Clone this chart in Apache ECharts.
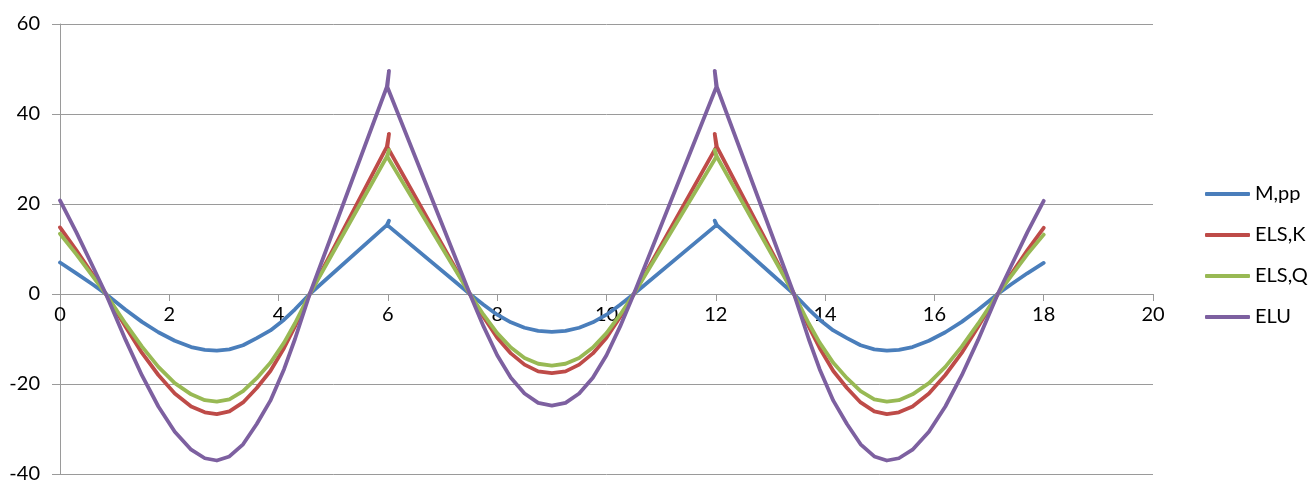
<!DOCTYPE html>
<html>
<head>
<meta charset="utf-8">
<script src="https://cdn.jsdelivr.net/npm/echarts@6/dist/echarts.min.js"></script>
<style>
html,body{margin:0;padding:0;background:#fff;}
#chart{width:1315px;height:482px;}
</style>
</head>
<body>
<div id="chart"></div>
<script>
const seriesNames = ['M,pp', 'ELS,K', 'ELS,Q', 'ELU'];
const xValues = [0, 0.3, 0.6, 0.84, 1.2, 1.5, 1.8, 2.1, 2.4, 2.65, 2.87, 3.1, 3.35, 3.6, 3.85, 4.1, 4.3, 4.57, 5.98, 6.02, 5.99, 7.5, 7.75, 8.0, 8.25, 8.5, 8.75, 9.0,
  9.25, 9.5, 9.75, 10.0, 10.25, 10.5, 12.01, 11.98, 12.02, 13.43, 13.7, 13.9, 14.15, 14.4, 14.65, 14.9, 15.13, 15.35, 15.6, 15.9, 16.2, 16.5, 16.8, 17.16, 17.4, 17.7, 18];
const mpp = [7.0, 4.6, 2.1, 0, -3.5, -6.2, -8.5, -10.4, -11.8, -12.4, -12.6, -12.3, -11.4, -9.8, -8.1, -5.7, -3.4, 0, 15.3, 16.3, 15.3, 0, -2.4, -4.6, -6.3, -7.5, -8.2, -8.4,
  -8.2, -7.5, -6.3, -4.6, -2.4, 0, 15.3, 16.3, 15.3, 0, -3.4, -5.7, -8.1, -9.8, -11.4, -12.3, -12.6, -12.4, -11.8, -10.4, -8.5, -6.2, -3.5, 0, 2.1, 4.6, 6.9];
const elsK = [14.8, 9.7, 4.3, 0, -7.3, -13.1, -18.0, -22.1, -25.0, -26.3, -26.7, -26.1, -24.1, -20.9, -17.1, -12.0, -7.2, 0, 32.7, 35.6, 32.7, 0, -5.1, -9.7, -13.2, -15.7, -17.2, -17.6,
  -17.2, -15.7, -13.2, -9.7, -5.1, 0, 32.7, 35.6, 32.7, 0, -7.2, -12.0, -17.1, -20.9, -24.1, -26.1, -26.7, -26.3, -25.0, -22.1, -18.0, -13.1, -7.3, 0, 4.3, 9.7, 14.7];
const elsQ = [13.4, 8.8, 3.9, 0, -6.6, -11.7, -16.2, -19.8, -22.3, -23.6, -23.9, -23.4, -21.6, -18.7, -15.3, -10.8, -6.5, 0, 30.5, 32.0, 30.5, 0, -4.6, -8.7, -11.9, -14.2, -15.5, -15.9,
  -15.5, -14.2, -11.9, -8.7, -4.6, 0, 30.5, 32.0, 30.5, 0, -6.5, -10.8, -15.3, -18.7, -21.6, -23.4, -23.9, -23.6, -22.3, -19.8, -16.2, -11.7, -6.6, 0, 3.9, 8.8, 13.2];
const elu = [20.8, 13.7, 6.1, 0, -10.2, -18.1, -25.0, -30.6, -34.6, -36.5, -37.0, -36.1, -33.4, -28.9, -23.7, -16.7, -10.0, 0, 46.0, 49.6, 46.0, 0, -7.2, -13.6, -18.6, -22.1, -24.2, -24.8,
  -24.2, -22.1, -18.6, -13.6, -7.2, 0, 46.0, 49.6, 46.0, 0, -10.0, -16.7, -23.7, -28.9, -33.4, -36.1, -37.0, -36.5, -34.6, -30.6, -25.0, -18.1, -10.2, 0, 6.1, 13.7, 20.7];
const xTicks = {min: 0, max: 20, interval: 2};
const yTicks = {min: -40, max: 60, interval: 20};
const colors = ['#4A7EBB', '#BE4B48', '#98B954', '#7D60A0'];

const allY = [mpp, elsK, elsQ, elu];
const font = 'Lato, "Open Sans", sans-serif';
const W = 1315, H = 482;
const gridTop = 24, gridBottom = 8;
const gridH = H - gridTop - gridBottom;
const zeroFromBottom = gridH * (0 - yTicks.min) / (yTicks.max - yTicks.min);

const chart = echarts.init(document.getElementById('chart'), null, {renderer: 'canvas'});
chart.setOption({
  animation: false,
  backgroundColor: '#ffffff',
  grid: {left: 60, right: 162, top: gridTop, bottom: gridBottom, containLabel: false, outerBoundsMode: 'none'},
  legend: {
    orient: 'vertical',
    left: 1200,
    top: 178,
    itemWidth: 45,
    itemHeight: 4,
    itemGap: 19,
    icon: 'roundRect',
    textStyle: {fontFamily: font, fontSize: 20, color: '#000', lineHeight: 22},
    data: seriesNames
  },
  xAxis: {
    type: 'value',
    min: xTicks.min, max: xTicks.max, interval: xTicks.interval,
    position: 'bottom',
    offset: -zeroFromBottom,
    axisLine: {show: true, onZero: false, lineStyle: {color: '#9a9a9a', width: 1}},
    axisTick: {show: true, length: 7, lineStyle: {color: '#9a9a9a'}},
    axisLabel: {fontFamily: font, fontSize: 20, color: '#000', margin: 11},
    splitLine: {show: false}
  },
  yAxis: {
    type: 'value',
    min: yTicks.min, max: yTicks.max, interval: yTicks.interval,
    axisLine: {show: true, lineStyle: {color: '#9a9a9a', width: 1}},
    axisTick: {show: true, length: 8, lineStyle: {color: '#9a9a9a'}},
    axisLabel: {fontFamily: font, fontSize: 20, color: '#000', margin: 20},
    splitLine: {show: true, lineStyle: {color: '#9a9a9a', width: 1}}
  },
  series: seriesNames.map((name, i) => ({
    name: name,
    type: 'line',
    data: xValues.map((x, k) => [x, allY[i][k]]),
    showSymbol: false,
    symbol: 'none',
    smooth: false,
    color: colors[i],
    lineStyle: {color: colors[i], width: 3.8, cap: 'round', join: 'round'}
  }))
});
</script>
</body>
</html>
